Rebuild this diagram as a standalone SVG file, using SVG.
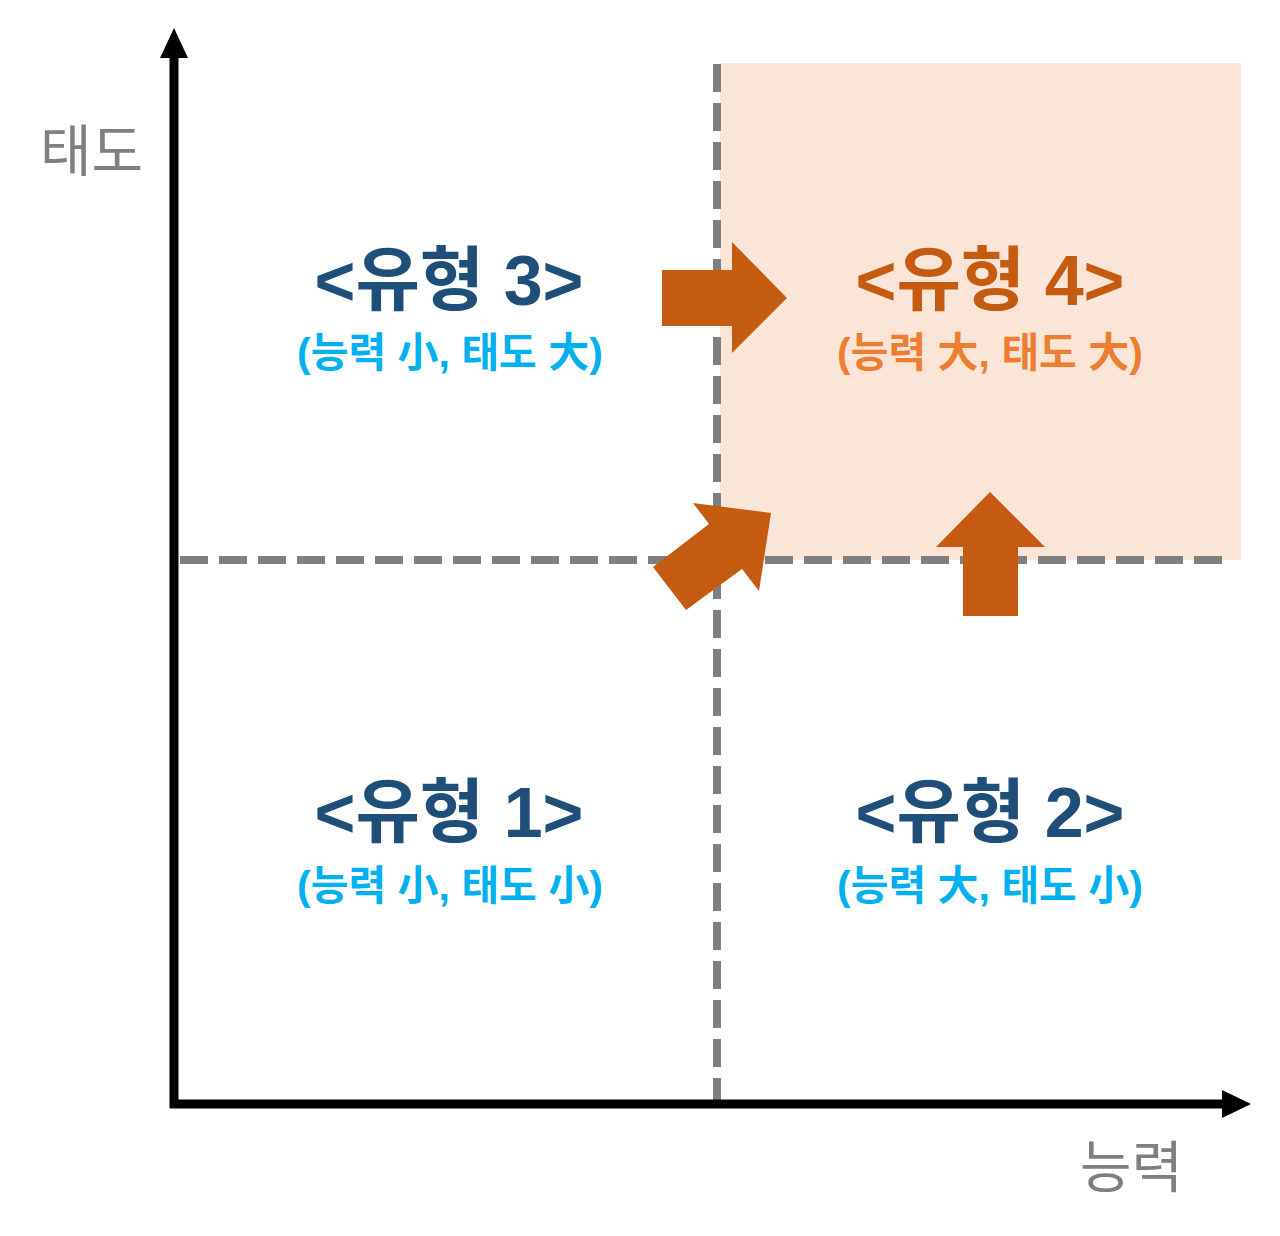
<svg xmlns="http://www.w3.org/2000/svg" width="1280" height="1236" viewBox="0 0 1280 1236">
<style>
.title{font-family:"Liberation Sans","Noto Sans CJK KR",sans-serif;font-weight:bold;font-size:70px;text-anchor:middle}
.sub{font-family:"Liberation Sans","Noto Sans CJK KR",sans-serif;font-weight:bold;font-size:41px;text-anchor:middle}
.blue{fill:#1F4E79}
.cyan{fill:#00B0F0}
.dorange{fill:#C55A11}
.lorange{fill:#ED7D31}
.axislabel{font-family:"Noto Sans CJK KR",sans-serif;font-size:56px;fill:#7F7F7F}
.dash{stroke:#7F7F7F;stroke-width:8;stroke-dasharray:28 11;fill:none}
.arrow{fill:#C55A11}
</style>
<rect id="highlight" x="720" y="63" width="521" height="497" fill="#FBE5D6"/>
<g id="connectors">
  <line class="dash" x1="717" y1="64" x2="717" y2="1104"/>
  <line class="dash" x1="180" y1="560" x2="1232" y2="560"/>
  <line x1="174" y1="1108" x2="174" y2="55" stroke="#000" stroke-width="9"/>
  <polygon points="174,28 160,58 188,58" fill="#000"/>
  <line x1="170" y1="1104" x2="1226" y2="1104" stroke="#000" stroke-width="9"/>
  <polygon points="1251,1104 1222,1090 1222,1118" fill="#000"/>
  <polygon class="arrow" points="662,270 732,270 732,242 787,298 732,353 732,326 662,326"/>
  <polygon class="arrow" points="653,567 709,524 693,503 771,513 759,591 742,569 686,610"/>
  <polygon class="arrow" points="963,616 963,547 936,547 990,492 1045,547 1018,547 1018,616"/>
</g>
<g id="axis-y-label"><text class="axislabel" x="40" y="171">태도</text></g>
<g id="axis-x-label"><text class="axislabel" x="1080" y="1187">능력</text></g>
<g id="type3">
  <text class="title blue" x="449" y="305">&lt;유형 3&gt;</text>
  <text class="sub cyan" x="450" y="367">(능력 小, 태도 大)</text>
</g>
<g id="type4">
  <text class="title dorange" x="990" y="305">&lt;유형 4&gt;</text>
  <text class="sub lorange" x="990" y="367">(능력 大, 태도 大)</text>
</g>
<g id="type1">
  <text class="title blue" x="449" y="837">&lt;유형 1&gt;</text>
  <text class="sub cyan" x="450" y="900">(능력 小, 태도 小)</text>
</g>
<g id="type2">
  <text class="title blue" x="990" y="837">&lt;유형 2&gt;</text>
  <text class="sub cyan" x="990" y="900">(능력 大, 태도 小)</text>
</g>
</svg>
